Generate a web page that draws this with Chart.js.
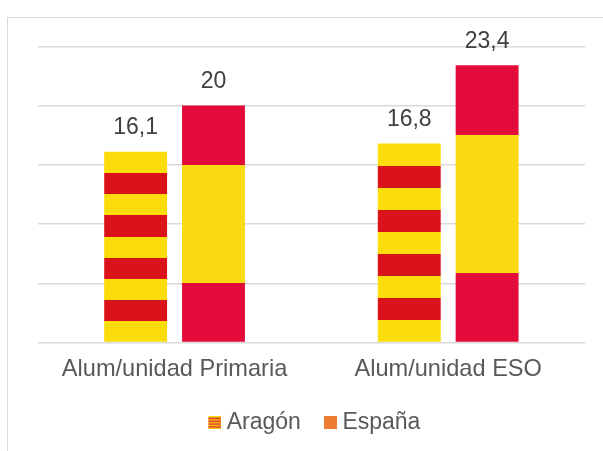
<!DOCTYPE html>
<html lang="es">
<head>
<meta charset="utf-8">
<title>Alumnos por unidad</title>
<script src="https://cdn.jsdelivr.net/npm/chart.js@4/dist/chart.umd.min.js"></script>
<style>
  html, body { margin: 0; padding: 0; background: #ffffff; }
  #wrap { width: 603px; height: 451px; }
</style>
</head>
<body>
<div id="wrap"><canvas id="chart" width="603" height="451"></canvas></div>
<script>
// ---- data ----
const categories = ['Alum/unidad Primaria', 'Alum/unidad ESO'];
const seriesNames = ['Aragón', 'España'];
const aragonValues = [16.1, 16.8];
const espanaValues = [20, 23.4];
const yMin = 0;
const yMax = 25;
const yStep = 5;

// ---- styling ----
const FONT = '"Liberation Sans", Arial, sans-serif';
const ARAGON_YELLOW = '#FCDD09';
const ARAGON_RED = '#DA121A';
const SPAIN_RED = '#E30B3A';
const SPAIN_YELLOW = '#FADA12';
const LEGEND_ORANGE = '#ED7D31';

// flag bands, listed from the top of the bar down
const aragonBands = {
  colors: [ARAGON_YELLOW, ARAGON_RED, ARAGON_YELLOW, ARAGON_RED, ARAGON_YELLOW,
           ARAGON_RED, ARAGON_YELLOW, ARAGON_RED, ARAGON_YELLOW],
  weights: [1, 1, 1, 1, 1, 1, 1, 1, 1]
};
const spainBands = {
  colors: [SPAIN_RED, SPAIN_YELLOW, SPAIN_RED],
  weights: [1, 2, 1]
};

// hard-stop vertical gradient spanning each bar from its top to the zero line
function bandFill(bands) {
  return (context) => {
    const chart = context.chart;
    const yScale = chart.scales && chart.scales.y;
    if (context.type !== 'data' || !yScale || !context.parsed) return bands.colors[0];
    const top = yScale.getPixelForValue(context.parsed.y);
    const bottom = yScale.getPixelForValue(0);
    if (!isFinite(top) || !isFinite(bottom) || top === bottom) return bands.colors[0];
    const g = chart.ctx.createLinearGradient(0, top, 0, bottom);
    const total = bands.weights.reduce((a, b) => a + b, 0);
    let acc = 0;
    bands.colors.forEach((col, i) => {
      const start = acc / total;
      acc += bands.weights[i];
      const end = acc / total;
      g.addColorStop(start, col);
      g.addColorStop(end, col);
    });
    return g;
  };
}

// legend markers: striped square and a plain orange square,
// each placed at the right edge of a wider transparent canvas
function markerCanvas(drawFn) {
  const cv = document.createElement('canvas');
  cv.width = 25;
  cv.height = 13;
  const c = cv.getContext('2d');
  drawFn(c, 12, 0, 13, 13);
  return cv;
}
const aragonMarker = markerCanvas((c, x, y, w, h) => {
  const n = 9;
  for (let i = 0; i < n; i++) {
    c.fillStyle = i % 2 === 0 ? ARAGON_YELLOW : ARAGON_RED;
    c.fillRect(x, y + (h * i) / n, w, h / n + 0.2);
  }
});
const spainMarker = markerCanvas((c, x, y, w, h) => {
  c.fillStyle = LEGEND_ORANGE;
  c.fillRect(x, y, w, h);
});

// outer frame and white background
const framePlugin = {
  id: 'frame',
  beforeDraw(chart) {
    const c = chart.ctx;
    c.save();
    c.fillStyle = '#ffffff';
    c.fillRect(0, 0, chart.width, chart.height);
    c.strokeStyle = '#d9d9d9';
    c.lineWidth = 1;
    c.strokeRect(7.5, 17.5, chart.width + 20, chart.height + 20);
    c.restore();
  }
};

// value written above every bar
const valueLabelPlugin = {
  id: 'valueLabels',
  afterDatasetsDraw(chart) {
    const c = chart.ctx;
    c.save();
    c.font = '23px ' + FONT;
    c.fillStyle = '#404040';
    c.textAlign = 'center';
    c.textBaseline = 'alphabetic';
    chart.data.datasets.forEach((ds, di) => {
      const meta = chart.getDatasetMeta(di);
      meta.data.forEach((bar, i) => {
        const v = ds.data[i];
        c.fillText(String(v).replace('.', ','), bar.x, bar.y - 17.5);
      });
    });
    c.restore();
  }
};

new Chart(document.getElementById('chart'), {
  type: 'bar',
  data: {
    labels: categories,
    datasets: [
      {
        label: seriesNames[0],
        data: aragonValues,
        backgroundColor: bandFill(aragonBands),
        borderWidth: 0,
        categoryPercentage: 0.569,
        barPercentage: 0.808
      },
      {
        label: seriesNames[1],
        data: espanaValues,
        backgroundColor: bandFill(spainBands),
        borderWidth: 0,
        categoryPercentage: 0.569,
        barPercentage: 0.808
      }
    ]
  },
  options: {
    responsive: false,
    animation: false,
    devicePixelRatio: 1,
    events: [],
    layout: {
      padding: { left: 37.75, right: 18, top: 46.3, bottom: 6.7 }
    },
    scales: {
      x: {
        grid: { display: false, drawTicks: false },
        border: { display: false },
        ticks: {
          color: '#595959',
          font: { family: FONT, size: 23.6 },
          padding: 13.2,
          maxRotation: 0
        },
        afterFit: (scale) => { scale.height = 51.45; }
      },
      y: {
        min: yMin,
        max: yMax,
        ticks: { display: false, stepSize: yStep },
        grid: { color: '#d9d9d9', lineWidth: 1.5, drawTicks: false },
        border: { display: false },
        afterFit: (scale) => { scale.width = 0; }
      }
    },
    plugins: {
      tooltip: { enabled: false },
      legend: {
        position: 'bottom',
        maxHeight: 57.25,
        labels: {
          usePointStyle: true,
          pointStyleWidth: 12.8,
          padding: 17.25,
          color: '#595959',
          font: { family: FONT, size: 23 },
          generateLabels: () => [
            { text: seriesNames[0], pointStyle: aragonMarker, fillStyle: ARAGON_RED,
              strokeStyle: 'rgba(0,0,0,0)', lineWidth: 0, hidden: false, datasetIndex: 0, fontColor: '#595959' },
            { text: seriesNames[1], pointStyle: spainMarker, fillStyle: LEGEND_ORANGE,
              strokeStyle: 'rgba(0,0,0,0)', lineWidth: 0, hidden: false, datasetIndex: 1, fontColor: '#595959' }
          ]
        }
      }
    }
  },
  plugins: [framePlugin, valueLabelPlugin]
});
</script>
</body>
</html>
